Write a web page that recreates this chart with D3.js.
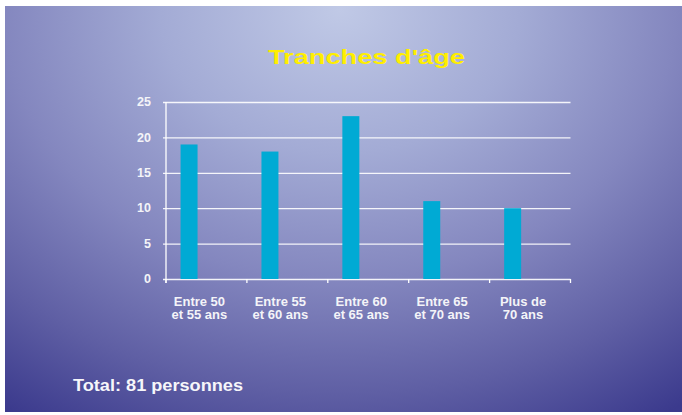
<!DOCTYPE html>
<html>
<head>
<meta charset="utf-8">
<script src="https://cdn.jsdelivr.net/npm/d3@7"></script>
<style>
  html, body { margin: 0; padding: 0; background: #ffffff; }
  svg { display: block; }
  text { font-family: "Liberation Sans", Arial, sans-serif; font-weight: bold; }
</style>
</head>
<body>
<svg id="chart" width="682" height="415"></svg>
<script>
// Age brackets of the participants
const categories = ["Entre 50\net 55 ans", "Entre 55\net 60 ans", "Entre 60\net 65 ans", "Entre 65\net 70 ans", "Plus de\n70 ans"];
const values = [19, 18, 23, 11, 10];
const yTicks = [0, 5, 10, 15, 20, 25];
const title = "Tranches d'âge";

const W = 682, H = 415;
const svg = d3.select("#chart");

// Slide background: elliptical radial glow from the top centre
const defs = svg.append("defs");
const grad = defs.append("radialGradient")
  .attr("id", "bg")
  .attr("gradientUnits", "userSpaceOnUse")
  .attr("cx", 340).attr("cy", 10).attr("r", 600)
  .attr("fx", 340).attr("fy", 10)
  .attr("gradientTransform", "translate(340,10) scale(1,0.8) translate(-340,-10)");
[[0, "#c0c9e6"], [0.3, "#a3abd5"], [0.56, "#8487bf"], [0.8, "#5f5fa4"], [1, "#3b3a8d"]]
  .forEach(([o, c]) => grad.append("stop").attr("offset", o).attr("stop-color", c));

svg.append("rect")
  .attr("x", 5).attr("y", 6).attr("width", W - 5).attr("height", 406)
  .attr("fill", "url(#bg)");

// Plot area
const plot = { left: 166, right: 570.5, top: 102, bottom: 279 };

const x = d3.scaleBand()
  .domain(categories)
  .range([plot.left, plot.right])
  .paddingInner(0).paddingOuter(0);

const y = d3.scaleLinear()
  .domain([0, 25])
  .range([plot.bottom, plot.top]);

// Horizontal gridlines with short outside ticks
const yAxis = d3.axisLeft(y)
  .tickValues(yTicks)
  .tickSize(-(plot.right - plot.left + 3))
  .tickPadding(12)
  .tickFormat(d3.format("d"));

const gy = svg.append("g")
  .attr("transform", `translate(${plot.right},0)`);
gy.call(d3.axisLeft(y).tickValues(yTicks).tickSize(plot.right - plot.left + 3).tickFormat(""));
gy.select(".domain").remove();
gy.selectAll(".tick line")
  .attr("stroke", "#ffffff")
  .attr("stroke-opacity", 0.9)
  .attr("stroke-width", 1.3);

// Y tick labels
svg.append("g")
  .selectAll("text")
  .data(yTicks)
  .join("text")
  .attr("x", 151)
  .attr("y", d => y(d))
  .attr("dy", "0.33em")
  .attr("text-anchor", "end")
  .attr("font-size", 12.5)
  .attr("fill", "#f4f4f8")
  .text(d => d);

// Vertical axis line
svg.append("line")
  .attr("x1", plot.left).attr("x2", plot.left)
  .attr("y1", plot.top).attr("y2", plot.bottom + 4)
  .attr("stroke", "#ffffff").attr("stroke-width", 1.3);

// Category boundary ticks below the baseline
const bounds = categories.map(c => x(c)).concat([plot.right]);
svg.append("g")
  .selectAll("line")
  .data(bounds)
  .join("line")
  .attr("x1", d => d).attr("x2", d => d)
  .attr("y1", plot.bottom).attr("y2", plot.bottom + 4)
  .attr("stroke", "#ffffff").attr("stroke-width", 1.3);

// Bars
svg.append("g")
  .selectAll("rect")
  .data(values)
  .join("rect")
  .attr("x", (d, i) => x(categories[i]) + x.bandwidth() * 0.18)
  .attr("width", x.bandwidth() * 0.21)
  .attr("y", d => y(d))
  .attr("height", d => y(0) - y(d))
  .attr("fill", "#00aad4");

// Category labels (two lines)
const xl = svg.append("g")
  .selectAll("text")
  .data(categories)
  .join("text")
  .attr("x", d => x(d) + x.bandwidth() * 0.5 - 7)
  .attr("y", 306)
  .attr("text-anchor", "middle")
  .attr("font-size", 13)
  .attr("fill", "#f4f4f8");
xl.selectAll("tspan")
  .data(d => d.split("\n"))
  .join("tspan")
  .attr("x", function () { return d3.select(this.parentNode).attr("x"); })
  .attr("dy", (d, i) => i === 0 ? 0 : 13.3)
  .text(d => d);

// Title
svg.append("text")
  .attr("x", 268)
  .attr("y", 64)
  .attr("font-size", 21)
  .attr("textLength", 197)
  .attr("lengthAdjust", "spacingAndGlyphs")
  .attr("fill", "#ffee00")
  .text(title);

// Total count
svg.append("text")
  .attr("x", 73)
  .attr("y", 391)
  .attr("font-size", 17)
  .attr("textLength", 170)
  .attr("lengthAdjust", "spacingAndGlyphs")
  .attr("fill", "#f6f6fa")
  .text(`Total: ${d3.sum(values)} personnes`);
</script>
</body>
</html>
